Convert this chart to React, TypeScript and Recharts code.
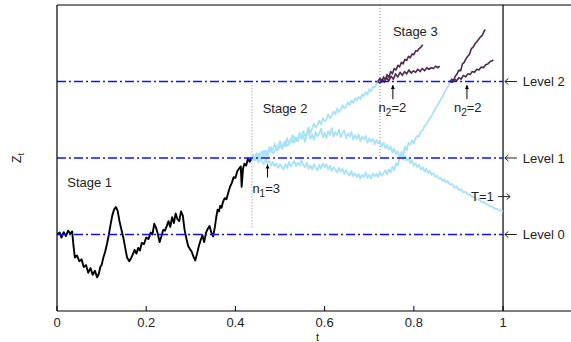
import React from 'react'
import { LineChart, Line, XAxis, YAxis, ReferenceLine, ReferenceDot } from 'recharts'

// axis ticks and level values
const xTicks = [0, 0.2, 0.4, 0.6, 0.8, 1]
const yTicks = [-1, 0, 1, 2, 3, 4, 5]
const levels = [0, 2, 4]
const levelNames = ['Level 0', 'Level 1', 'Level 2']

// sample paths: [t, Z_t]
const stage1Path: number[][] = [
  [0, 0.0], [0.006, 0.05], [0.01, -0.08], [0.015, 0.06], [0.02, -0.04], [0.025, 0.1], [0.03, 0.02], [0.034, 0.08],
  [0.037, -0.3], [0.04, -0.6], [0.045, -0.55], [0.05, -0.7], [0.055, -0.65], [0.06, -0.85], [0.065, -0.8], [0.07, -1.0],
  [0.075, -0.88], [0.08, -1.05], [0.085, -0.95], [0.09, -1.12], [0.094, -1.02], [0.097, -0.85], [0.1, -0.8], [0.104, -0.6],
  [0.108, -0.45], [0.112, -0.25], [0.116, -0.02], [0.12, 0.25], [0.124, 0.5], [0.128, 0.65], [0.132, 0.72], [0.136, 0.62],
  [0.14, 0.35], [0.145, 0.1], [0.149, -0.1], [0.153, -0.35], [0.157, -0.6], [0.162, -0.7], [0.166, -0.62], [0.17, -0.52],
  [0.174, -0.4], [0.178, -0.5], [0.182, -0.35], [0.186, -0.42], [0.19, -0.22], [0.195, -0.25], [0.2, -0.08], [0.205, -0.12],
  [0.21, 0.05], [0.214, 0.0], [0.218, 0.28], [0.222, 0.18], [0.226, 0.02], [0.23, -0.2], [0.234, -0.05], [0.238, 0.12],
  [0.242, 0.1], [0.246, 0.22], [0.25, 0.35], [0.254, 0.2], [0.258, 0.45], [0.262, 0.3], [0.266, 0.55], [0.27, 0.4],
  [0.274, 0.35], [0.278, 0.6], [0.282, 0.5], [0.286, 0.12], [0.29, -0.1], [0.294, -0.3], [0.298, -0.38], [0.302, -0.45],
  [0.306, -0.58], [0.31, -0.68], [0.314, -0.5], [0.318, -0.3], [0.322, -0.15], [0.326, -0.02], [0.33, -0.2], [0.334, 0.05],
  [0.338, 0.15], [0.342, 0.22], [0.346, 0.05], [0.35, -0.05], [0.354, 0.2], [0.357, 0.45], [0.36, 0.65], [0.363, 0.6],
  [0.366, 0.75], [0.369, 0.7], [0.372, 0.85], [0.376, 0.95], [0.38, 0.92], [0.384, 1.1], [0.388, 1.25], [0.392, 1.35],
  [0.396, 1.5], [0.4, 1.48], [0.404, 1.65], [0.408, 1.72], [0.412, 1.78], [0.414, 1.25], [0.417, 1.72], [0.42, 1.85],
  [0.424, 1.8], [0.428, 1.98], [0.432, 1.9], [0.436, 2.0],
]

const stage2PathA: number[][] = [
  [0.436, 2.0], [0.44, 2.08], [0.444, 1.98], [0.448, 2.04], [0.452, 2.12], [0.456, 2.0], [0.46, 2.06], [0.464, 2.18],
  [0.468, 2.1], [0.472, 2.02], [0.476, 2.2], [0.48, 2.28], [0.484, 2.12], [0.488, 2.16], [0.492, 2.3], [0.496, 2.2],
  [0.5, 2.38], [0.504, 2.24], [0.508, 2.3], [0.512, 2.44], [0.516, 2.32], [0.52, 2.36], [0.524, 2.5], [0.528, 2.4],
  [0.532, 2.56], [0.536, 2.44], [0.54, 2.48], [0.544, 2.62], [0.548, 2.5], [0.552, 2.7], [0.556, 2.58], [0.56, 2.64],
  [0.564, 2.8], [0.568, 2.66], [0.572, 2.76], [0.576, 2.9], [0.58, 2.8], [0.584, 2.86], [0.588, 2.98], [0.592, 2.88],
  [0.596, 3.04], [0.6, 2.96], [0.604, 3.0], [0.608, 3.14], [0.612, 3.04], [0.616, 3.1], [0.62, 3.22], [0.624, 3.14],
  [0.628, 3.3], [0.632, 3.2], [0.636, 3.26], [0.64, 3.38], [0.644, 3.3], [0.648, 3.34], [0.652, 3.46], [0.656, 3.38],
  [0.66, 3.5], [0.664, 3.44], [0.668, 3.56], [0.672, 3.5], [0.676, 3.6], [0.68, 3.54], [0.684, 3.66], [0.688, 3.62],
  [0.692, 3.72], [0.696, 3.66], [0.7, 3.8], [0.704, 3.74], [0.708, 3.86], [0.712, 3.84], [0.716, 3.94], [0.72, 4.0],
]

const stage2PathB: number[][] = [
  [0.436, 2.0], [0.44, 1.94], [0.444, 2.06], [0.448, 2.12], [0.452, 2.0], [0.456, 2.1], [0.46, 2.18], [0.464, 2.04],
  [0.468, 2.2], [0.472, 2.1], [0.476, 2.28], [0.48, 2.16], [0.484, 2.22], [0.488, 2.38], [0.492, 2.2], [0.496, 2.34],
  [0.5, 2.44], [0.504, 2.26], [0.508, 2.4], [0.512, 2.3], [0.516, 2.52], [0.52, 2.36], [0.524, 2.46], [0.528, 2.6],
  [0.532, 2.4], [0.536, 2.54], [0.54, 2.44], [0.544, 2.66], [0.548, 2.5], [0.552, 2.58], [0.556, 2.42], [0.56, 2.6],
  [0.564, 2.7], [0.568, 2.5], [0.572, 2.62], [0.576, 2.48], [0.58, 2.68], [0.584, 2.56], [0.588, 2.64], [0.592, 2.76],
  [0.596, 2.54], [0.6, 2.66], [0.604, 2.52], [0.608, 2.7], [0.612, 2.6], [0.616, 2.78], [0.62, 2.56], [0.624, 2.68],
  [0.628, 2.6], [0.632, 2.74], [0.636, 2.54], [0.64, 2.66], [0.644, 2.72], [0.648, 2.52], [0.652, 2.64], [0.656, 2.56],
  [0.66, 2.68], [0.664, 2.48], [0.668, 2.6], [0.672, 2.5], [0.676, 2.62], [0.68, 2.44], [0.684, 2.56], [0.688, 2.48],
  [0.692, 2.58], [0.696, 2.4], [0.7, 2.52], [0.704, 2.42], [0.708, 2.5], [0.712, 2.36], [0.716, 2.48], [0.72, 2.38],
  [0.724, 2.44], [0.728, 2.3], [0.732, 2.4], [0.736, 2.26], [0.74, 2.34], [0.744, 2.22], [0.748, 2.3], [0.752, 2.14],
  [0.756, 2.24], [0.76, 2.1], [0.764, 2.18], [0.768, 2.04], [0.772, 2.1], [0.776, 1.96], [0.78, 2.06], [0.784, 1.94],
  [0.788, 1.98], [0.792, 1.86], [0.796, 1.94], [0.8, 1.8], [0.804, 1.86], [0.808, 1.76], [0.812, 1.82], [0.816, 1.7],
  [0.82, 1.76], [0.824, 1.64], [0.828, 1.72], [0.832, 1.6], [0.836, 1.66], [0.84, 1.56], [0.844, 1.6], [0.848, 1.5],
  [0.852, 1.54], [0.856, 1.46], [0.86, 1.48], [0.864, 1.4], [0.868, 1.44], [0.872, 1.36], [0.876, 1.4], [0.881, 1.3],
  [0.886, 1.32], [0.891, 1.22], [0.896, 1.26], [0.901, 1.16], [0.906, 1.18], [0.911, 1.1], [0.916, 1.12], [0.921, 1.04],
  [0.926, 1.05], [0.931, 0.98], [0.936, 0.98], [0.941, 0.92], [0.946, 0.92], [0.951, 0.86], [0.956, 0.85], [0.961, 0.8],
  [0.966, 0.78], [0.971, 0.74], [0.976, 0.72], [0.981, 0.68], [0.986, 0.67], [0.991, 0.64], [0.996, 0.62], [1.0, 0.6],
]

const stage2PathC: number[][] = [
  [0.436, 2.0], [0.44, 2.04], [0.444, 1.94], [0.448, 1.98], [0.452, 1.88], [0.456, 2.0], [0.46, 1.9], [0.464, 1.84],
  [0.468, 1.96], [0.472, 1.86], [0.476, 1.92], [0.48, 1.8], [0.484, 1.9], [0.488, 1.78], [0.492, 1.86], [0.496, 1.74],
  [0.5, 1.84], [0.504, 1.76], [0.508, 1.7], [0.512, 1.84], [0.516, 1.74], [0.52, 1.9], [0.524, 1.78], [0.528, 1.86],
  [0.532, 1.92], [0.536, 1.78], [0.54, 1.88], [0.544, 1.8], [0.548, 1.94], [0.552, 1.82], [0.556, 1.76], [0.56, 1.88],
  [0.564, 1.72], [0.568, 1.8], [0.572, 1.7], [0.576, 1.84], [0.58, 1.74], [0.584, 1.68], [0.588, 1.82], [0.592, 1.72],
  [0.596, 1.86], [0.6, 1.76], [0.604, 1.84], [0.608, 1.7], [0.612, 1.8], [0.616, 1.66], [0.62, 1.76], [0.624, 1.7],
  [0.628, 1.62], [0.632, 1.74], [0.636, 1.64], [0.64, 1.72], [0.644, 1.58], [0.648, 1.68], [0.652, 1.6], [0.656, 1.54],
  [0.66, 1.66], [0.664, 1.52], [0.668, 1.6], [0.672, 1.5], [0.676, 1.58], [0.68, 1.46], [0.684, 1.56], [0.688, 1.5],
  [0.692, 1.62], [0.696, 1.48], [0.7, 1.56], [0.704, 1.46], [0.708, 1.6], [0.712, 1.52], [0.716, 1.58], [0.72, 1.5],
  [0.724, 1.64], [0.728, 1.54], [0.732, 1.6], [0.736, 1.68], [0.74, 1.58], [0.744, 1.7], [0.748, 1.62], [0.752, 1.78],
  [0.756, 1.68], [0.76, 1.86], [0.764, 1.8], [0.768, 2.0], [0.772, 2.16], [0.776, 2.06], [0.78, 2.3], [0.784, 2.2],
  [0.788, 2.4], [0.792, 2.34], [0.796, 2.46], [0.8, 2.38], [0.804, 2.52], [0.808, 2.58], [0.812, 2.56], [0.816, 2.7],
  [0.82, 2.72], [0.824, 2.84], [0.828, 2.88], [0.832, 2.96], [0.836, 3.04], [0.84, 3.1], [0.844, 3.2], [0.848, 3.28],
  [0.852, 3.36], [0.856, 3.44], [0.86, 3.52], [0.864, 3.6], [0.868, 3.7], [0.872, 3.78], [0.876, 3.86], [0.882, 4.0],
]

const stage3PathA: number[][] = [
  [0.719, 4.0], [0.724, 4.08], [0.728, 3.98], [0.732, 4.12], [0.736, 4.04], [0.74, 4.18], [0.744, 4.1], [0.748, 4.26],
  [0.752, 4.2], [0.756, 4.34], [0.76, 4.3], [0.764, 4.42], [0.768, 4.38], [0.772, 4.5], [0.776, 4.46], [0.78, 4.58],
  [0.784, 4.55], [0.788, 4.66], [0.792, 4.62], [0.796, 4.72], [0.8, 4.7], [0.804, 4.8], [0.808, 4.8], [0.812, 4.86],
  [0.816, 4.9], [0.82, 4.96],
]
const stage3PathB: number[][] = [
  [0.719, 4.0], [0.724, 3.96], [0.729, 4.06], [0.734, 3.98], [0.739, 4.1], [0.744, 4.02], [0.749, 4.14], [0.754, 4.06],
  [0.759, 4.2], [0.764, 4.12], [0.769, 4.24], [0.774, 4.16], [0.779, 4.26], [0.784, 4.2], [0.789, 4.3], [0.794, 4.22],
  [0.799, 4.28], [0.804, 4.24], [0.809, 4.32], [0.814, 4.26], [0.819, 4.34], [0.824, 4.28], [0.829, 4.36], [0.834, 4.32],
  [0.839, 4.36], [0.844, 4.34], [0.849, 4.4], [0.854, 4.36], [0.858, 4.4],
]
const stage3PathC: number[][] = [
  [0.881, 4.0], [0.885, 4.06], [0.889, 4.02], [0.893, 4.14], [0.897, 4.2], [0.901, 4.3], [0.905, 4.28], [0.909, 4.46],
  [0.913, 4.5], [0.917, 4.6], [0.921, 4.66], [0.925, 4.72], [0.929, 4.86], [0.933, 4.9], [0.937, 4.98], [0.941, 5.04],
  [0.945, 5.1], [0.949, 5.16], [0.953, 5.2], [0.957, 5.3], [0.96, 5.36],
]
const stage3PathD: number[][] = [
  [0.881, 4.0], [0.886, 3.98], [0.891, 4.06], [0.896, 4.02], [0.901, 4.1], [0.906, 4.06], [0.911, 4.16], [0.916, 4.12],
  [0.921, 4.2], [0.926, 4.18], [0.931, 4.26], [0.936, 4.24], [0.941, 4.32], [0.946, 4.3], [0.951, 4.38], [0.956, 4.36],
  [0.961, 4.44], [0.966, 4.46], [0.971, 4.52], [0.976, 4.54], [0.978, 4.57],
]

const toPoints = (path: number[][]) => path.map(([t, z]) => ({ t, z }))

const FONT = '"Liberation Sans", Arial, sans-serif'
const BLUE = '#a8e2f6'
const PURPLE = '#4f2a4b'

function BottomTick({ x, y, payload }: any) {
  return (
    <g>
      <line x1={x} y1={y} x2={x} y2={y - 5} stroke="#000" />
      <text x={x} y={y + 16} textAnchor="middle" fontSize={13} fontFamily={FONT} fill="#222">
        {String(payload.value)}
      </text>
    </g>
  )
}

// plain text note placed at a data point
function note(text: React.ReactNode) {
  return (props: any) => (
    <text x={props.cx} y={props.cy} dy={4.5} textAnchor="start" fontSize={13} fontFamily={FONT} fill="#222">
      {text}
    </text>
  )
}

// thin horizontal arrow (dir -1 = left, 1 = right) followed by optional text
function hArrow(dir: number, len: number, label?: string) {
  return (props: any) => {
    const { cx, cy } = props
    const tip = dir < 0 ? cx : cx + len
    return (
      <g>
        <line x1={cx} y1={cy} x2={cx + len} y2={cy} stroke="#222" strokeWidth={1} />
        <path d={`M${tip - dir * 3.5},${cy - 3} L${tip},${cy} L${tip - dir * 3.5},${cy + 3}`} fill="none" stroke="#222" strokeWidth={1} />
        {label && (
          <text x={cx + len + 6} y={cy} dy={4.5} fontSize={13} fontFamily={FONT} fill="#222">
            {label}
          </text>
        )}
      </g>
    )
  }
}

// small upward arrow, length in px
function upArrow(len: number) {
  return (props: any) => {
    const { cx, cy } = props
    return (
      <g>
        <line x1={cx} y1={cy} x2={cx} y2={cy - len} stroke="#000" strokeWidth={1} />
        <path d={`M${cx - 2},${cy - len + 4} L${cx},${cy - len} L${cx + 2},${cy - len + 4} Z`} fill="#000" />
      </g>
    )
  }
}

const sub = (base: string, s: string, rest: string) => (
  <>
    {base}
    <tspan dy={4} fontSize={10}>{s}</tspan>
    <tspan dy={-4}>{rest}</tspan>
  </>
)

function ZLabel({ viewBox }: any) {
  const x = viewBox.x - 36
  const y = 158
  return (
    <text x={x} y={y} transform={`rotate(-90 ${x} ${y})`} textAnchor="middle" fontSize={12} fontFamily={FONT} fill="#222">
      Z<tspan dy={3} fontSize={9}>t</tspan>
    </text>
  )
}

function TLabel({ viewBox }: any) {
  return (
    <text x={viewBox.x + viewBox.width / 2} y={viewBox.y + 30} textAnchor="middle" fontSize={11} fontFamily={FONT} fill="#222">
      t
    </text>
  )
}

export default function App() {
  const paths = [
    { key: 's1', data: stage1Path, color: '#000', w: 1.9 },
    { key: 's2a', data: stage2PathA, color: BLUE, w: 1.8 },
    { key: 's2b', data: stage2PathB, color: BLUE, w: 1.8 },
    { key: 's2c', data: stage2PathC, color: BLUE, w: 1.8 },
    { key: 's3a', data: stage3PathA, color: PURPLE, w: 1.6 },
    { key: 's3b', data: stage3PathB, color: PURPLE, w: 1.6 },
    { key: 's3c', data: stage3PathC, color: PURPLE, w: 1.6 },
    { key: 's3d', data: stage3PathD, color: PURPLE, w: 1.6 },
  ]

  return (
    <div style={{ position: 'fixed', left: 0, top: 0, width: 571, height: 342, overflow: 'hidden', background: '#fff' }}>
      <LineChart width={580} height={342} margin={{ top: 5, right: 2, bottom: 1, left: 57 }}>
        <XAxis
          xAxisId="b"
          dataKey="t"
          type="number"
          domain={[0, 1.168]}
          ticks={xTicks}
          allowDataOverflow
          height={30}
          tickSize={0}
          tickMargin={0}
          tickLine={false}
          tick={<BottomTick />}
          axisLine={{ stroke: '#000', strokeWidth: 1.2 }}
          label={<TLabel />}
        />
        <XAxis
          xAxisId="top"
          orientation="top"
          type="number"
          domain={[0, 1.168]}
          ticks={xTicks}
          allowDataOverflow
          height={1}
          mirror
          tick={false}
          tickSize={5}
          tickLine={{ stroke: '#000' }}
          axisLine={{ stroke: '#000', strokeWidth: 1.2 }}
        />
        <YAxis
          yAxisId="l"
          type="number"
          domain={[-2, 6]}
          ticks={yTicks}
          allowDataOverflow
          width={1}
          mirror
          tick={false}
          tickSize={5}
          tickLine={{ stroke: '#000' }}
          axisLine={{ stroke: '#000', strokeWidth: 1.2 }}
          label={<ZLabel />}
        />

        <ReferenceLine xAxisId="b" yAxisId="l" segment={[{ x: 0.437, y: 3.9 }, { x: 0.437, y: 0.15 }]} stroke="#888" strokeDasharray="1 2" />
        <ReferenceLine xAxisId="b" yAxisId="l" segment={[{ x: 0.724, y: 6 }, { x: 0.724, y: 2.05 }]} stroke="#888" strokeDasharray="1 2" />
        <ReferenceLine xAxisId="b" yAxisId="l" x={1} stroke="#333" strokeWidth={1.5} />

        {paths.map((p) => (
          <Line
            key={p.key}
            xAxisId="b"
            yAxisId="l"
            data={toPoints(p.data)}
            dataKey="z"
            type="linear"
            stroke={p.color}
            strokeWidth={p.w}
            strokeLinejoin="round"
            dot={false}
            activeDot={false}
            isAnimationActive={false}
          />
        ))}

        {levels.map((lv) => (
          <ReferenceLine
            key={'lv' + lv}
            xAxisId="b"
            yAxisId="l"
            segment={[{ x: 0, y: lv }, { x: 1, y: lv }]}
            stroke="#1010ff"
            strokeWidth={1.5}
            strokeDasharray="9 3 2 3"
          />
        ))}
        {levels.map((lv, i) => (
          <ReferenceDot key={'ln' + lv} xAxisId="b" yAxisId="l" x={1.004} y={lv} r={0} shape={hArrow(-1, 12, levelNames[i])} />
        ))}

        <ReferenceDot xAxisId="b" yAxisId="l" x={0.023} y={1.36} r={0} shape={note('Stage 1')} />
        <ReferenceDot xAxisId="b" yAxisId="l" x={0.461} y={3.3} r={0} shape={note('Stage 2')} />
        <ReferenceDot xAxisId="b" yAxisId="l" x={0.753} y={5.32} r={0} shape={note('Stage 3')} />

        <ReferenceDot xAxisId="b" yAxisId="l" x={0.438} y={1.2} r={0} shape={note(sub('n', '1', '=3'))} />
        <ReferenceDot xAxisId="b" yAxisId="l" x={0.472} y={1.49} r={0} shape={upArrow(13)} />
        <ReferenceDot xAxisId="b" yAxisId="l" x={0.721} y={3.33} r={0} shape={note(sub('n', '2', '=2'))} />
        <ReferenceDot xAxisId="b" yAxisId="l" x={0.753} y={3.54} r={0} shape={upArrow(14)} />
        <ReferenceDot xAxisId="b" yAxisId="l" x={0.89} y={3.33} r={0} shape={note(sub('n', '2', '=2'))} />
        <ReferenceDot xAxisId="b" yAxisId="l" x={0.919} y={3.54} r={0} shape={upArrow(14)} />
        <ReferenceDot xAxisId="b" yAxisId="l" x={0.928} y={0.99} r={0} shape={note('T=1')} />
        <ReferenceDot xAxisId="b" yAxisId="l" x={0.989} y={0.99} r={0} shape={hArrow(1, 12)} />
      </LineChart>
    </div>
  )
}
